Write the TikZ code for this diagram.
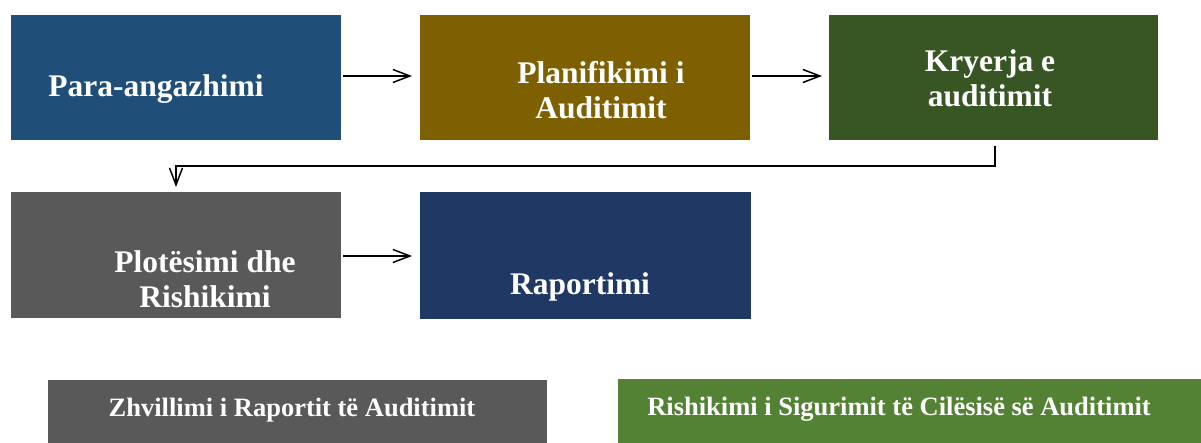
\documentclass[tikz,border=0pt]{standalone}
\usepackage{fontspec}
\setmainfont{Liberation Serif}
\usetikzlibrary{arrows.meta}
\definecolor{cblue}{RGB}{31,78,121}
\definecolor{cgold}{RGB}{127,96,0}
\definecolor{cgreen}{RGB}{55,86,35}
\definecolor{cgray}{RGB}{89,89,89}
\definecolor{cnavy}{RGB}{32,56,100}
\definecolor{clgreen}{RGB}{84,130,53}
\tikzset{
  big/.style={text=white, font=\bfseries\fontsize{31.5}{34.5}\selectfont, align=center, inner sep=0pt, anchor=base},
  small/.style={text=white, font=\bfseries\fontsize{26.5}{30}\selectfont, align=center, inner sep=0pt, anchor=base},
  flow/.style={draw=black, line width=1.5pt, -{Straight Barb[length=17pt,width=13pt,line width=1.5pt]}},
}
\begin{document}
\begin{tikzpicture}[x=1pt,y=-1pt]
\useasboundingbox (0,0) rectangle (1201,442);
\clip (0,0) rectangle (1201,442);
% boxes
\fill[cblue] (11,15) rectangle (341,140);
\fill[cgold] (420,15) rectangle (750,140);
\fill[cgreen] (829,15) rectangle (1158,140);
\fill[cgray] (11,192) rectangle (341,318);
\fill[cnavy] (420,192) rectangle (751,319);
\fill[cgray] (48,380) rectangle (547,450);
\fill[clgreen] (618,379) rectangle (1201,450);
\coordinate (b1r) at (343,76);
\coordinate (b2l) at (412,76);
\coordinate (b2r) at (752,76);
\coordinate (b3l) at (822,76);
\coordinate (b3b) at (995,146);
\coordinate (b4t) at (176,187);
\coordinate (b4r) at (343,256);
\coordinate (b5l) at (412,256);
% texts (anchor = baseline of last line)
\node[big] (t1) at (156,96) {Para-angazhimi};
\node[big] (t2) at (601,118) {Planifikimi i\\Auditimit};
\node[big] (t3) at (990,106) {Kryerja e\\auditimit};
\node[big] (t4) at (205,307) {Plotësimi dhe\\Rishikimi};
\node[big] (t5) at (580,294) {Raportimi};
\node[small] (t6) at (292,416) {Zhvillimi i Raportit të Auditimit};
\node[small] (t7) at (899,415) {Rishikimi i Sigurimit të Cilësisë së Auditimit};
% connectors
\draw[flow] (b1r) -- (b2l);
\draw[flow] (b2r) -- (b3l);
\draw[flow] (b4r) -- (b5l);
\draw[flow] (b3b) -- (995,166) -- (176,166) -- (b4t);
\end{tikzpicture}
\end{document}
